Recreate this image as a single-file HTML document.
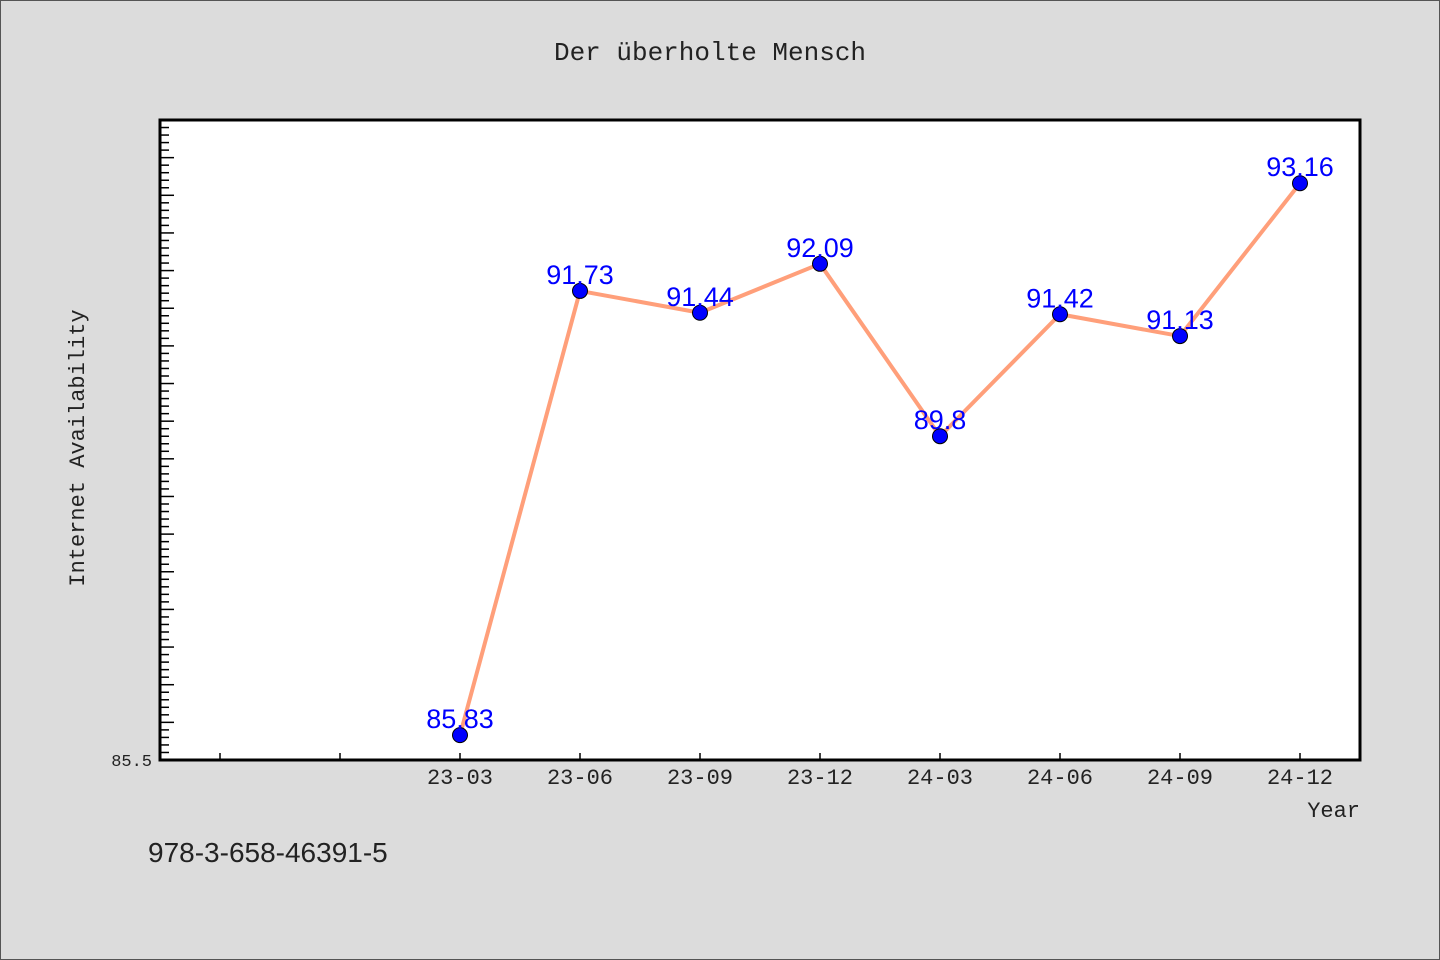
<!DOCTYPE html>
<html><head><meta charset="utf-8"><style>
body{margin:0;background:#dcdcdc;}
svg{display:block;font-family:"Liberation Mono","WenQuanYi Zen Hei",monospace;}
</style></head><body>
<svg id="chart" width="1440" height="960" xmlns="http://www.w3.org/2000/svg">
<rect x="0.5" y="0.5" width="1439" height="959" fill="#dcdcdc" stroke="#555"/>
<text x="710" y="60" text-anchor="middle" font-size="26" fill="#222">Der überholte Mensch</text>
<rect x="160" y="120" width="1200" height="640" fill="#fff"/>
<g id="ticks"></g>
<g id="series"></g>
<rect x="160" y="120" width="1200" height="640" fill="none" stroke="#000" stroke-width="3"/>
<text x="152" y="766" text-anchor="end" font-size="17" fill="#222">85.5</text>
<text transform="translate(84,448) rotate(-90)" text-anchor="middle" font-size="22" fill="#222">Internet Availability</text>
<text x="1360" y="817" text-anchor="end" font-size="22" fill="#222">Year</text>
<text x="148" y="862" font-size="28" fill="#222" font-family="Liberation Sans, sans-serif">978-3-658-46391-5</text>
</svg>
<script>
const categories = ["23-03","23-06","23-09","23-12","24-03","24-06","24-09","24-12"];
const values = [85.83, 91.73, 91.44, 92.09, 89.8, 91.42, 91.13, 93.16];
const labels = ["85.83","91.73","91.44","92.09","89.8","91.42","91.13","93.16"];
const yMin = 85.5, yMax = 94.0;
const NS = "http://www.w3.org/2000/svg";
const L=160,R=1360,T=120,B=760, slot=120, offset=2;
function xPos(i){return L+60+slot*(i+offset);}
function yPos(v){return B-(v-yMin)/(yMax-yMin)*(B-T);}
function mk(tag,attrs,parent){const e=document.createElementNS(NS,tag);for(const k in attrs)e.setAttribute(k,attrs[k]);parent.appendChild(e);return e;}
const tg=document.getElementById('ticks');
for(let k=1;k*0.1+yMin<yMax-0.001;k++){
  const y=yPos(yMin+k*0.1);const major=k%5===0;
  const t=mk('line',{x1:L,x2:L+(major?14:9),y1:y,y2:y,stroke:'#000','stroke-width':1.5},tg);
  
  
}
for(let i=-offset;i<categories.length;i++){
  const x=xPos(i);
  const t=mk('line',{x1:x,x2:x,y1:B,y2:B-7,stroke:'#000','stroke-width':1.5},tg);
  
  
  if(i>=0){
    const lb=mk('text',{x:x,y:B+24,'text-anchor':'middle','font-size':22,fill:'#222'},tg);
    lb.textContent=categories[i];
    
    
  }
}
const sg=document.getElementById('series');
const pts=values.map((v,i)=>xPos(i)+','+yPos(v)).join(' ');
const line=mk('polyline',{points:pts,fill:'none',stroke:'#ff9f7a','stroke-width':4,'stroke-linejoin':'round'},sg);


values.forEach((v,i)=>{
  const c=mk('circle',{cx:xPos(i),cy:yPos(v),r:7.5,fill:'#0000ff',stroke:'#000','stroke-width':1},sg);
  
  
});
values.forEach((v,i)=>{
  const t=mk('text',{x:xPos(i),y:yPos(v)-7,'text-anchor':'middle','font-size':27,fill:'#0000ff','font-family':'Liberation Sans, sans-serif'},sg);
  t.textContent=labels[i];
  
  
});
</script>
</body></html>
